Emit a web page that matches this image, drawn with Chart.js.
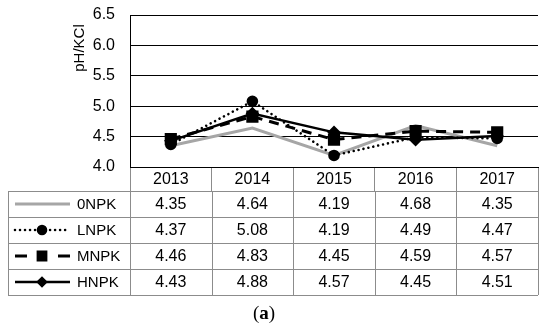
<!DOCTYPE html>
<html>
<head>
<meta charset="utf-8">
<script src="https://cdn.jsdelivr.net/npm/chart.js@4.4.1/dist/chart.umd.min.js"></script>
<style>
  html, body { margin: 0; padding: 0; background: #fff; }
</style>
</head>
<body>
<canvas id="ph_chart" width="550" height="330"></canvas>
<script>
// data
const years = ['2013', '2014', '2015', '2016', '2017'];
const seriesNames = ['0NPK', 'LNPK', 'MNPK', 'HNPK'];
const npk0 = [4.35, 4.64, 4.19, 4.68, 4.35];
const npkL = [4.37, 5.08, 4.19, 4.49, 4.47];
const npkM = [4.46, 4.83, 4.45, 4.59, 4.57];
const npkH = [4.43, 4.88, 4.57, 4.45, 4.51];
const yMin = 4.0;
const yMax = 6.5;
const yStep = 0.5;
const yTitle = 'pH/KCl';
const panelLabel = 'a';

const FONT = "'Liberation Sans', Arial, sans-serif";
const tableLine = '#8c8c8c';
const headerH = 24;
const rowH = 26;
const tableLeft = 8;

// how the little line samples in the table look
const sampleStyle = [
  { width: 3, dash: [], cap: 'butt', r: 0 },
  { width: 2.6, dash: [0.01, 5], cap: 'round', r: 4 },
  { width: 3, dash: [12, 31], cap: 'butt', r: 5.5 },
  { width: 2.5, dash: [], cap: 'butt', r: 4 }
];

Chart.defaults.font.family = FONT;
Chart.defaults.font.size = 16;
Chart.defaults.color = '#000';

// table under the plot + y title + panel label
const tablePlugin = {
  id: 'dataTable',
  afterDraw(chart) {
    const {ctx, chartArea} = chart;
    const x = chart.scales.x;
    const top = chartArea.bottom + headerH;
    const right = chartArea.right;
    const half = (x.getPixelForValue(1) - x.getPixelForValue(0)) / 2;
    const rows = chart.data.datasets.length;

    ctx.save();
    // grid of the table
    ctx.strokeStyle = tableLine;
    ctx.lineWidth = 1;
    ctx.setLineDash([]);
    ctx.beginPath();
    for (let r = 0; r <= rows; r++) {
      const y = Math.round(top + r * rowH) + 0.5;
      ctx.moveTo(tableLeft, y);
      ctx.lineTo(right, y);
    }
    const colX = [tableLeft, ...years.map((_, i) => x.getPixelForValue(i) - half), right];
    colX.forEach(cx => {
      const px = Math.round(cx) + 0.5;
      ctx.moveTo(px, top);
      ctx.lineTo(px, top + rows * rowH);
    });
    ctx.stroke();

    // cells
    chart.data.datasets.forEach((ds, r) => {
      const cy = top + r * rowH + rowH / 2;
      ctx.fillStyle = '#000';
      ctx.font = '16px ' + FONT;
      ctx.textAlign = 'center';
      ctx.textBaseline = 'middle';
      ds.data.forEach((v, i) => {
        ctx.fillText(v.toFixed(2), x.getPixelForValue(i), cy + 1);
      });
      ctx.textAlign = 'left';
      ctx.font = '15px ' + FONT;
      ctx.fillText(ds.label, 77, cy + 1);

      // legend sample
      const s = sampleStyle[r];
      ctx.save();
      ctx.strokeStyle = ds.borderColor;
      ctx.lineWidth = s.width;
      ctx.setLineDash(s.dash);
      ctx.lineCap = s.cap;
      ctx.beginPath();
      ctx.moveTo(15, cy);
      ctx.lineTo(70, cy);
      ctx.stroke();
      if (s.r > 0) {
        ctx.setLineDash([]);
        ctx.fillStyle = ds.pointBackgroundColor;
        ctx.strokeStyle = ds.pointBorderColor;
        Chart.helpers.drawPoint(ctx, {
          pointStyle: ds.pointStyle,
          radius: s.r,
          rotation: 0,
          borderWidth: 1
        }, 42, cy);
      }
      ctx.restore();
    });

    // y axis title
    ctx.save();
    ctx.translate(80, 48);
    ctx.rotate(-Math.PI / 2);
    ctx.font = '15px ' + FONT;
    ctx.fillStyle = '#000';
    ctx.textAlign = 'center';
    ctx.textBaseline = 'middle';
    ctx.fillText(yTitle, 0, 0);
    ctx.restore();

    // (a)
    ctx.fillStyle = '#000';
    ctx.textAlign = 'left';
    ctx.textBaseline = 'alphabetic';
    const normal = "19px 'Liberation Serif', serif";
    const bold = "bold 19px 'Liberation Serif', serif";
    ctx.font = normal;
    const wp = ctx.measureText('(').width;
    const wq = ctx.measureText(')').width;
    ctx.font = bold;
    const wa = ctx.measureText(panelLabel).width;
    let px = 264 - (wp + wa + wq) / 2;
    const by = 319;
    ctx.font = normal; ctx.fillText('(', px, by); px += wp;
    ctx.font = bold; ctx.fillText(panelLabel, px, by); px += wa;
    ctx.font = normal; ctx.fillText(')', px, by);
    ctx.restore();
  }
};

const ctx = document.getElementById('ph_chart').getContext('2d');

new Chart(ctx, {
  type: 'line',
  data: {
    labels: years,
    datasets: [
      {
        label: seriesNames[0],
        data: npk0,
        borderColor: '#a6a6a6',
        borderWidth: 3,
        pointRadius: 0,
        pointStyle: 'circle',
        order: 5
      },
      {
        label: seriesNames[1],
        data: npkL,
        borderColor: '#000',
        borderWidth: 2.6,
        borderDash: [0.01, 5],
        borderCapStyle: 'round',
        pointStyle: 'circle',
        pointRadius: 4.5,
        pointBackgroundColor: '#000',
        pointBorderColor: '#000',
        order: 3
      },
      {
        label: seriesNames[2],
        data: npkM,
        borderColor: '#000',
        borderWidth: 3,
        borderDash: [10, 7],
        pointStyle: 'rect',
        pointRadius: 6.5,
        pointBackgroundColor: '#000',
        pointBorderColor: '#000',
        order: 2
      },
      {
        label: seriesNames[3],
        data: npkH,
        borderColor: '#000',
        borderWidth: 2.5,
        pointStyle: 'rectRot',
        pointRadius: 5,
        pointBackgroundColor: '#000',
        pointBorderColor: '#000',
        order: 1
      }
    ]
  },
  options: {
    responsive: false,
    animation: false,
    events: [],
    layout: {
      padding: { left: 0, right: 12, top: 15, bottom: 330 - 167 - headerH }
    },
    plugins: {
      legend: { display: false },
      tooltip: { enabled: false }
    },
    scales: {
      x: {
        offset: true,
        grid: {
          offset: true,
          drawOnChartArea: false,
          drawTicks: true,
          tickLength: headerH,
          color: tableLine
        },
        border: { display: true, color: '#000', width: 1 },
        ticks: {
          autoSkip: false,
          maxRotation: 0,
          padding: -21,
          font: { size: 16 }
        },
        afterFit(scale) {
          scale.height = headerH;
          scale.paddingLeft = 0;
          scale.paddingRight = 0;
        }
      },
      y: {
        min: yMin,
        max: yMax,
        grid: { color: '#000', lineWidth: 1, drawTicks: false },
        border: { display: true, color: '#000', width: 1 },
        ticks: {
          stepSize: yStep,
          padding: 15,
          font: { size: 16 },
          callback: v => Number(v).toFixed(1)
        },
        afterFit(scale) {
          scale.width = 130;
          scale.paddingTop = 0;
          scale.paddingBottom = 0;
        }
      }
    }
  },
  plugins: [tablePlugin]
});
</script>
</body>
</html>
